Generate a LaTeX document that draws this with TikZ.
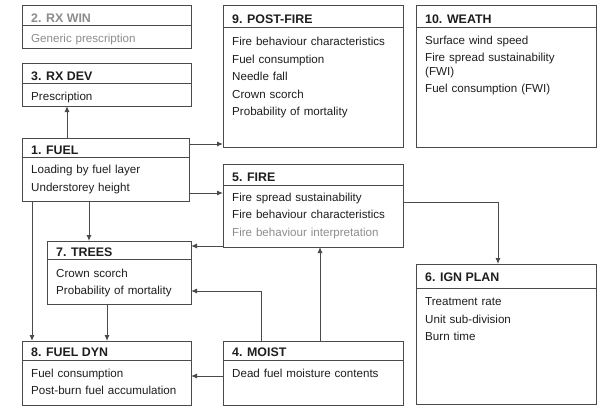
\documentclass[tikz,border=0pt]{standalone}
\usepackage{fontspec}
\setmainfont{Liberation Sans}
\usetikzlibrary{arrows.meta,positioning}
\definecolor{framegray}{HTML}{4A4A4A}
\definecolor{textdark}{HTML}{1E1E1E}
\definecolor{textgray}{HTML}{8C8C8C}

\begin{document}
\begin{tikzpicture}[
   x=1pt, y=-1pt,
   frame/.style={draw=framegray, line width=0.95pt, anchor=north west,
      inner sep=0pt, outer sep=0pt},
   head/.style={anchor=north west, inner xsep=9pt, inner ysep=0pt,
      text height=17pt, text depth=3.5pt, text=textdark,
      font=\fontsize{12.4}{14}\selectfont\bfseries},
   body/.style={anchor=north west, inner xsep=9pt, inner ysep=0pt,
      text width=165pt, align=left, text height=16.5pt, text=textdark,
      font=\fontsize{11.6}{13.5}\selectfont},
   faded/.style={text=textgray},
   divider/.style={draw=framegray, line width=0.95pt},
   arrow/.style={-{Latex[length=6pt,width=5pt]}, draw=framegray, line width=0.95pt}
]
\useasboundingbox (0,0) rectangle (609,412);

% left column
\node[frame, minimum width=169pt, minimum height=43pt] (rxwin) at (22,5) {};
\node[head, faded] (rxwinT) at (rxwin.north west) {2. RX WIN};
\node[body, faded] (rxwinL) at (rxwinT.south west) {Generic prescription};
\draw[divider] (rxwinT.south -| rxwin.west) -- (rxwinT.south -| rxwin.east);

\node[frame, minimum width=169pt, minimum height=43pt] (rxdev) at (22,63) {};
\node[head] (rxdevT) at (rxdev.north west) {3. RX DEV};
\node[body] (rxdevL) at (rxdevT.south west) {Prescription};
\draw[divider] (rxdevT.south -| rxdev.west) -- (rxdevT.south -| rxdev.east);

\node[frame, minimum width=167pt, minimum height=63pt] (fuel) at (22,138) {};
\node[head, text height=16pt] (fuelT) at (fuel.north west) {1. FUEL};
\node[body, text height=15.5pt] (fuelL) at (fuelT.south west)
   {Loading by fuel layer\\[4pt]Understorey height};
\draw[divider] (fuelT.south -| fuel.west) -- (fuelT.south -| fuel.east);

\node[frame, minimum width=144pt, minimum height=63pt] (trees) at (47,241) {};
\node[head, text height=15pt, text depth=3pt] (treesT) at (trees.north west) {7. TREES};
\node[body, text height=17.5pt] (treesL) at (treesT.south west)
   {Crown scorch\\[4pt]Probability of mortality};
\draw[divider] (treesT.south -| trees.west) -- (treesT.south -| trees.east);

\node[frame, minimum width=169pt, minimum height=64pt] (fueldyn) at (22,341) {};
\node[head, text height=15.5pt] (fueldynT) at (fueldyn.north west) {8. FUEL DYN};
\node[body] (fueldynL) at (fueldynT.south west)
   {Fuel consumption\\[4pt]Post-burn fuel accumulation};
\draw[divider] (fueldynT.south -| fueldyn.west) -- (fueldynT.south -| fueldyn.east);

% middle column
\node[frame, minimum width=180pt, minimum height=142pt] (postfire) at (223,5) {};
\node[head, text height=18pt, text depth=4pt] (postfireT) at (postfire.north west) {9. POST-FIRE};
\node[body, text height=18pt] (postfireL) at (postfireT.south west)
   {Fire behaviour characteristics\\[4pt]Fuel consumption\\[4pt]Needle fall\\[4pt]
    Crown scorch\\[4pt]Probability of mortality};
\draw[divider] (postfireT.south -| postfire.west) -- (postfireT.south -| postfire.east);

\node[frame, minimum width=180pt, minimum height=83pt] (fire) at (223,164) {};
\node[head, text depth=4pt] (fireT) at (fire.north west) {5. FIRE};
\node[body, text height=15.5pt] (fireL) at (fireT.south west)
   {Fire spread sustainability\\[4pt]Fire behaviour characteristics\\[4pt]
    \textcolor{textgray}{Fire behaviour interpretation}};
\draw[divider] (fireT.south -| fire.west) -- (fireT.south -| fire.east);

\node[frame, minimum width=180pt, minimum height=64pt] (moist) at (223,341) {};
\node[head, text height=15.5pt] (moistT) at (moist.north west) {4. MOIST};
\node[body, text height=17pt] (moistL) at (moistT.south west) {Dead fuel moisture contents};
\draw[divider] (moistT.south -| moist.west) -- (moistT.south -| moist.east);

% right column
\node[frame, minimum width=180pt, minimum height=142pt] (weath) at (416,5) {};
\node[head, text height=18pt, text depth=4.5pt] (weathT) at (weath.north west) {10. WEATH};
\node[body, text height=16pt] (weathL) at (weathT.south west)
   {Surface wind speed\\[4pt]Fire spread sustainability\\(FWI)\\[4pt]Fuel consumption (FWI)};
\draw[divider] (weathT.south -| weath.west) -- (weathT.south -| weath.east);

\node[frame, minimum width=180pt, minimum height=140pt] (ignplan) at (416,264) {};
\node[head, text depth=7pt] (ignplanT) at (ignplan.north west) {6. IGN PLAN};
\node[body, text height=17pt] (ignplanL) at (ignplanT.south west)
   {Treatment rate\\[4pt]Unit sub-division\\[4pt]Burn time};
\draw[divider] (ignplanT.south -| ignplan.west) -- (ignplanT.south -| ignplan.east);

% links
\coordinate (fuelUp) at ([xshift=45pt]fuel.north west);
\coordinate (fuelPost) at ([yshift=-6pt]fuel.north east);
\coordinate (fuelFire) at ([yshift=8pt]fuel.south east);
\coordinate (fuelTree) at ([xshift=67pt]fuel.south west);
\coordinate (fuelDyn) at ([xshift=10pt]fuel.south west);
\coordinate (treeDyn) at ([xshift=60pt]trees.south west);
\coordinate (fireOut) at ([yshift=-38pt]fire.north east);
\coordinate (ignIn) at ([xshift=82pt]ignplan.north west);
\coordinate (fireTree) at ([yshift=1pt]fire.south west);
\coordinate (moistTree) at ([xshift=38pt]moist.north west);
\coordinate (treeIn) at ([yshift=-50pt]trees.north east);
\coordinate (moistFire) at ([xshift=97pt]moist.north west);
\coordinate (moistDyn) at ([yshift=-35pt]moist.north west);

\draw[arrow] (fuelUp) -- (fuelUp |- rxdev.south);
\draw[arrow] (fuelPost) -- (fuelPost -| postfire.west);
\draw[arrow] (fuelFire) -- (fuelFire -| fire.west);
\draw[arrow] (fuelTree) -- (fuelTree |- trees.north);
\draw[arrow] (fuelDyn) -- (fuelDyn |- fueldyn.north);
\draw[arrow] (treeDyn) -- (treeDyn |- fueldyn.north);
\draw[arrow] (fireOut) -| (ignIn);
\draw[arrow] (fireTree) -- (fireTree -| trees.east);
\draw[arrow] (moistTree) |- (treeIn);
\draw[arrow] (moistFire) -- (moistFire |- fire.south);
\draw[arrow] (moistDyn) -- (moistDyn -| fueldyn.east);
\end{tikzpicture}
\end{document}
